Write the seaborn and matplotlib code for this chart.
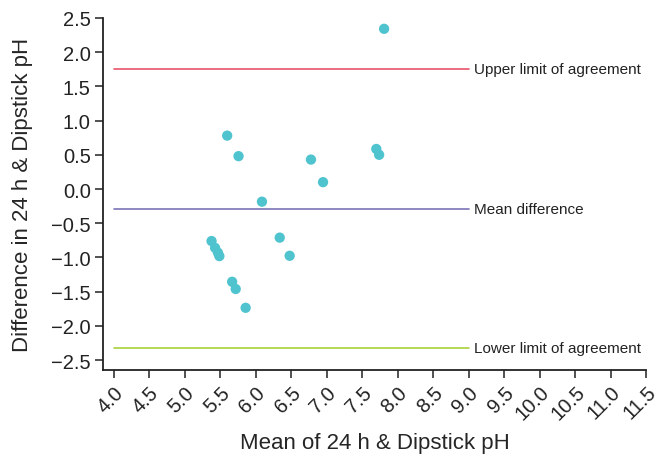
import matplotlib
matplotlib.use("Agg")
import matplotlib.pyplot as plt
import seaborn as sns
import pandas as pd

# Bland-Altman data
mean_ph = [7.81, 5.60, 5.76, 6.78, 7.70, 7.74, 6.95, 6.09, 5.38, 5.43,
           5.47, 5.49, 6.34, 6.48, 5.67, 5.72, 5.86]
diff_ph = [2.34, 0.78, 0.48, 0.43, 0.585, 0.50, 0.10, -0.185, -0.76, -0.86,
           -0.93, -0.98, -0.71, -0.975, -1.355, -1.46, -1.735]

ref_values = [1.755, -0.285, -2.32]
ref_labels = ["Upper limit of agreement", "Mean difference", "Lower limit of agreement"]
ref_colors = ["#e8546b", "#7a74b8", "#a8d23c"]

x_ticks = [4.0, 4.5, 5.0, 5.5, 6.0, 6.5, 7.0, 7.5, 8.0, 8.5, 9.0, 9.5,
           10.0, 10.5, 11.0, 11.5]
y_ticks = [2.5, 2.0, 1.5, 1.0, 0.5, 0.0, -0.5, -1.0, -1.5, -2.0, -2.5]

df = pd.DataFrame({"mean": mean_ph, "diff": diff_ph})

sns.set_style("ticks")
plt.rcParams['font.family'] = ['Liberation Sans', 'DejaVu Sans']

fig, ax = plt.subplots(figsize=(6.62, 4.6), dpi=100)
fig.subplots_adjust(left=0.156, right=0.976, top=0.959, bottom=0.194)

for val, lab, col in zip(ref_values, ref_labels, ref_colors):
    ax.plot([4.0, 9.0], [val, val], color=col, linewidth=1.2, zorder=1)
    ax.text(9.08, val, lab, va="center", ha="left", fontsize=11, color="#222222")

sns.scatterplot(data=df, x="mean", y="diff", ax=ax, color="#4fc4cf",
                s=55, edgecolor="none", zorder=3)

ax.set_xlim(3.855, 11.5)
ax.set_ylim(-2.64, 2.5)
ax.set_xticks(x_ticks)
ax.set_xticklabels([f"{t:.1f}" for t in x_ticks], rotation=45,
                   ha="right", rotation_mode="anchor", fontsize=14.5)
ax.set_yticks(y_ticks)
ax.set_yticklabels([f"{t:.1f}".replace("-", "\u2212") for t in y_ticks], fontsize=14.5)

ax.set_xlabel("Mean of 24 h & Dipstick pH", fontsize=16, labelpad=6)
ax.set_ylabel("Difference in 24 h & Dipstick pH", fontsize=16, labelpad=13)

sns.despine(ax=ax)
for side in ["left", "bottom"]:
    ax.spines[side].set_linewidth(1.3)
    ax.spines[side].set_color("#222222")
ax.tick_params(axis="both", length=6, width=1.1, color="#222222",
               labelcolor="#222222", pad=3)

fig.savefig("out.png", dpi=100)
